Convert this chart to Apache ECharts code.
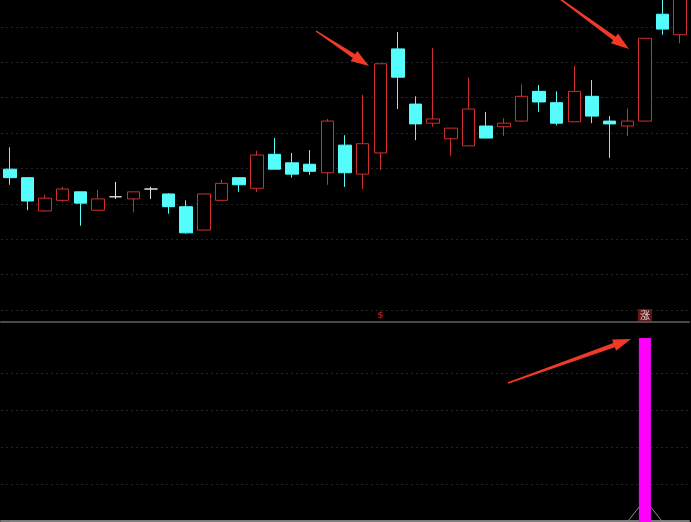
<!DOCTYPE html>
<html>
<head>
<meta charset="utf-8">
<script src="https://cdn.jsdelivr.net/npm/echarts/dist/echarts.min.js"></script>
<style>
html,body{margin:0;padding:0;background:#000;}
#c{width:691px;height:522px;}
</style>
</head>
<body>
<div id="c"></div>
<script>
// ---- data ----
const days = ['1','2','3','4','5','6','7','8','9','10','11','12','13','14','15','16','17','18','19','20',
  '21','22','23','24','25','26','27','28','29','30','31','32','33','34','35','36','37','38','39'];
// [open, close, low, high]
const ohlc = [
  [11.99, 11.87, 11.77, 12.30],
  [11.87, 11.54, 11.41, 11.88],
  [11.40, 11.58, 11.39, 11.63],
  [11.55, 11.71, 11.53, 11.74],
  [11.67, 11.51, 11.19, 11.67],
  [11.41, 11.57, 11.41, 11.70],
  [11.60, 11.60, 11.57, 11.81],
  [11.57, 11.67, 11.38, 11.67],
  [11.71, 11.71, 11.57, 11.74],
  [11.64, 11.46, 11.36, 11.65],
  [11.46, 11.09, 11.08, 11.55],
  [11.13, 11.64, 11.13, 11.64],
  [11.55, 11.79, 11.55, 11.84],
  [11.87, 11.77, 11.67, 11.87],
  [11.72, 12.19, 11.67, 12.25],
  [12.20, 11.99, 11.99, 12.43],
  [12.08, 11.92, 11.87, 12.22],
  [12.06, 11.96, 11.91, 12.26],
  [11.94, 12.67, 11.77, 12.70],
  [12.33, 11.94, 11.74, 12.47],
  [11.92, 12.35, 11.71, 13.04],
  [12.22, 13.48, 11.98, 13.48],
  [13.69, 13.29, 12.84, 13.93],
  [12.91, 12.63, 12.40, 13.02],
  [12.64, 12.70, 12.59, 13.70],
  [12.42, 12.57, 12.18, 12.57],
  [12.32, 12.84, 12.32, 13.29],
  [12.60, 12.43, 12.43, 12.80],
  [12.59, 12.64, 12.46, 12.71],
  [12.67, 13.02, 12.66, 13.19],
  [13.09, 12.94, 12.80, 13.18],
  [12.93, 12.64, 12.61, 13.09],
  [12.66, 13.09, 12.66, 13.45],
  [13.02, 12.74, 12.64, 13.25],
  [12.67, 12.63, 12.15, 12.74],
  [12.60, 12.67, 12.46, 12.85],
  [12.67, 13.84, 12.67, 13.84],
  [14.18, 13.97, 13.89, 14.45],
  [13.89, 14.66, 13.77, 14.73]
];
// lower indicator: signal bar and its companion line
const signalBar = [0,0,0,0,0,0,0,0,0,0,0,0,0,0,0,0,0,0,0,0,0,0,0,0,0,0,0,0,0,0,0,0,0,0,0,0,4.93,0,0];
const signalLine = [0,0,0,0,0,0,0,0,0,0,0,0,0,0,0,0,0,0,0,0,0,0,0,0,0,0,0,0,0,0,0,0,0,0,0,0,0.6,0,0];
// text marks above the lower panel: [category index, level, text]
const marks = [[21, 5.52, '$'], [36, 5.55, '涨']];

// ---- chart ----
const chart = echarts.init(document.getElementById('c'), null, {renderer: 'canvas'});

function arrow(x1, y1, x2, y2) {
  const dx = x2 - x1, dy = y2 - y1, L = Math.hypot(dx, dy);
  const ux = dx / L, uy = dy / L, nx = -uy, ny = ux;
  const hl = 18, hw = 6, s0 = 0.7, s1 = 2.2;
  const bx = x2 - ux * hl, by = y2 - uy * hl;
  return [
    [x1 + nx * s0, y1 + ny * s0], [bx + nx * s1, by + ny * s1], [bx + nx * hw, by + ny * hw],
    [x2, y2],
    [bx - nx * hw, by - ny * hw], [bx - nx * s1, by - ny * s1], [x1 - nx * s0, y1 - ny * s0]
  ];
}
const arrowColor = '#f03a28';

const gridLine = {show: true, showMaxLine: false, lineStyle: {color: '#262626', type: [2, 3], width: 1}};

chart.setOption({
  backgroundColor: '#000',
  animation: false,
  grid: [
    {left: 1, right: 2, top: 0, bottom: 212},
    {left: 1, right: 2, top: 335.5, bottom: 0}
  ],
  xAxis: [
    {type: 'category', data: days, gridIndex: 0, boundaryGap: true, offset: 12,
     axisLine: {show: true, onZero: false, lineStyle: {color: '#4a4a4a', width: 2}},
     axisTick: {show: false}, axisLabel: {show: false}, splitLine: {show: false}},
    {type: 'category', data: days, gridIndex: 1, boundaryGap: true, offset: -1,
     axisLine: {show: true, onZero: false, lineStyle: {color: '#7a7a7a', width: 2}},
     axisTick: {show: false}, axisLabel: {show: false}, splitLine: {show: false}}
  ],
  yAxis: [
    {type: 'value', gridIndex: 0, min: 10, max: 14.381, interval: 0.5, scale: true,
     axisLine: {show: false}, axisTick: {show: false}, axisLabel: {show: false},
     splitLine: gridLine},
    {type: 'value', gridIndex: 1, min: 0, max: 5, interval: 1,
     axisLine: {show: false}, axisTick: {show: false}, axisLabel: {show: false},
     splitLine: Object.assign({}, gridLine, {showMinLine: false})}
  ],
  series: [
    {
      type: 'candlestick', xAxisIndex: 0, yAxisIndex: 0, data: ohlc, barWidth: 13, clip: true,
      itemStyle: {
        color: '#000', color0: '#55fcfc',
        borderColor: '#d02e2c', borderColor0: '#55fcfc', borderColorDoji: '#e0e0e0',
        borderWidth: 1
      }
    },
    {
      type: 'line', xAxisIndex: 1, yAxisIndex: 1, data: signalLine, symbol: 'none', z: 2,
      lineStyle: {color: '#8a8a8a', width: 1}
    },
    {
      type: 'bar', xAxisIndex: 1, yAxisIndex: 1, data: signalBar, barWidth: 12, z: 3,
      itemStyle: {color: '#ff00ff'}
    },
    {
      type: 'scatter', xAxisIndex: 1, yAxisIndex: 1, clip: false, symbolSize: 1, z: 4,
      itemStyle: {color: 'rgba(0,0,0,0)'},
      data: marks.map(m => ({
        value: [m[0], m[1]],
        label: m[2] === '涨'
          ? {show: true, position: 'inside', formatter: m[2], color: '#fff', fontSize: 10,
             backgroundColor: '#7a1c1c', padding: [1, 2], fontFamily: 'Noto Sans CJK SC'}
          : {show: true, position: 'inside', formatter: m[2], color: '#c41a1a', fontSize: 9,
             fontWeight: 'bold', fontFamily: 'DejaVu Sans'}
      }))
    }
  ],
  graphic: [
    {type: 'polygon', shape: {points: arrow(316, 31, 369, 66)}, style: {fill: arrowColor}, z: 100},
    {type: 'polygon', shape: {points: arrow(556, -4, 629, 49)}, style: {fill: arrowColor}, z: 100},
    {type: 'polygon', shape: {points: arrow(508, 383, 631, 339)}, style: {fill: arrowColor}, z: 100}
  ]
});
</script>
</body>
</html>
